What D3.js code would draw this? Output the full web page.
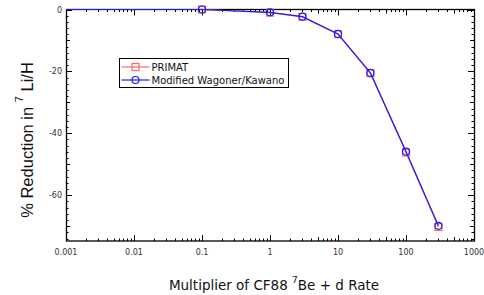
<!DOCTYPE html>
<html>
<head>
<meta charset="utf-8">
<script src="https://cdn.jsdelivr.net/npm/d3@7"></script>
<style>
  body { margin: 0; background: #fff; }
  text { font-family: "DejaVu Sans", sans-serif; }
</style>
</head>
<body>
<svg id="chart" width="484" height="295"></svg>
<script>
// multiplier of the CF88 rate, and % change in 7Li/H
var multipliers = [0.001, 0.01, 0.1, 1, 3, 10, 30, 100, 300]
var primatValues = [0, 0, 0, -1.0, -2.4, -8.0, -20.6, -46.2, -70.3]
var wagonerValues = [0, 0, 0, -0.9, -2.3, -7.9, -20.5, -45.9, -69.9]
var markedMultipliers = [0.1, 1, 3, 10, 30, 100, 300]
var xTickLabels = ["0.001", "0.01", "0.1", "1", "10", "100", "1000"]
var yTickValues = [0, -20, -40, -60]
var seriesNames = ["PRIMAT", "Modified Wagoner/Kawano"]

var svg = d3.select("#chart")
var plotLeft = 66, plotRight = 474, plotTop = 9.5, plotBottom = 241

var xScale = d3.scaleLog().domain([0.001, 1000]).range([plotLeft, plotRight])
var yScale = d3.scaleLinear().domain([-74.8, 0]).range([plotBottom, plotTop])

// minor ticks
var minorX = []
for (var e = -3; e < 3; e++) {
    for (var m = 2; m <= 9; m++) minorX.push(m * Math.pow(10, e))
}
var minorY = d3.range(0, -75, -2)

function tickLen(v) {
    if (v % 20 === 0) return 6
    if (v % 10 === 0) return 4
    return 2.5
}

var g = svg.append("g").attr("stroke", "#000").attr("stroke-width", 1)

// x ticks (bottom up, top down)
var xMajor = xTickLabels.map(Number)
xMajor.concat(minorX).forEach(function (v) {
    var x = Math.round(xScale(v)) + 0.5
    var len = xMajor.indexOf(v) >= 0 ? 6 : (String(v).charAt(0) === "5" ? 4 : 2.5)
    g.append("line").attr("x1", x).attr("x2", x).attr("y1", plotBottom).attr("y2", plotBottom - len)
    g.append("line").attr("x1", x).attr("x2", x).attr("y1", plotTop).attr("y2", plotTop + len)
})

// y ticks (left and right)
minorY.forEach(function (v) {
    var y = Math.round(yScale(v)) + 0.5
    var len = tickLen(v)
    g.append("line").attr("x1", plotLeft).attr("x2", plotLeft + len).attr("y1", y).attr("y2", y)
    g.append("line").attr("x1", plotRight).attr("x2", plotRight - len).attr("y1", y).attr("y2", y)
})

g.append("rect")
    .attr("x", plotLeft + 0.5).attr("y", plotTop)
    .attr("width", plotRight - plotLeft).attr("height", plotBottom - plotTop)
    .attr("fill", "none").attr("stroke-width", 1.3)

// tick labels
svg.selectAll(".xlab")
    .data(xTickLabels)
    .enter().append("text")
    .attr("x", function (d) { return xScale(+d) })
    .attr("y", 255)
    .attr("text-anchor", "middle")
    .attr("font-size", 8)
    .attr("fill", "#333")
    .text(function (d) { return d })

svg.selectAll(".ylab")
    .data(yTickValues)
    .enter().append("text")
    .attr("x", plotLeft - 4)
    .attr("y", function (d) { return yScale(d) + 3 })
    .attr("text-anchor", "end")
    .attr("font-size", 8)
    .attr("fill", "#333")
    .text(function (d) { return d })

// series
var line = d3.line()
    .x(function (d) { return xScale(d[0]) })
    .y(function (d) { return yScale(d[1]) })

var primat = multipliers.map(function (x, i) { return [x, primatValues[i]] })
var wagoner = multipliers.map(function (x, i) { return [x, wagonerValues[i]] })

svg.append("path").datum(primat).attr("d", line)
    .attr("fill", "none").attr("stroke", "#ff6a6a").attr("stroke-width", 1.2)

svg.selectAll(".sq")
    .data(primat.filter(function (d) { return markedMultipliers.indexOf(d[0]) >= 0 }))
    .enter().append("rect")
    .attr("x", function (d) { return xScale(d[0]) - 3.5 })
    .attr("y", function (d) { return yScale(d[1]) - 3.5 })
    .attr("width", 7).attr("height", 7)
    .attr("fill", "none").attr("stroke", "#ff6a6a").attr("stroke-width", 1.2)

svg.append("path").datum(wagoner).attr("d", line)
    .attr("fill", "none").attr("stroke", "#1a1aff").attr("stroke-width", 1.2)

svg.selectAll(".ci")
    .data(wagoner.filter(function (d) { return markedMultipliers.indexOf(d[0]) >= 0 }))
    .enter().append("circle")
    .attr("cx", function (d) { return xScale(d[0]) })
    .attr("cy", function (d) { return yScale(d[1]) })
    .attr("r", 3.5)
    .attr("fill", "none").attr("stroke", "#1a1aff").attr("stroke-width", 1.2)

// legend
var legend = svg.append("g").attr("transform", "translate(119.5,58.5)")
legend.append("rect").attr("width", 169).attr("height", 29)
    .attr("fill", "#fff").attr("stroke", "#000").attr("stroke-width", 1)
legend.append("line").attr("x1", 2).attr("x2", 30).attr("y1", 8.5).attr("y2", 8.5)
    .attr("stroke", "#ff6a6a").attr("stroke-width", 1.2)
legend.append("rect").attr("x", 12.5).attr("y", 5).attr("width", 7).attr("height", 7)
    .attr("fill", "none").attr("stroke", "#ff6a6a").attr("stroke-width", 1.2)
legend.append("line").attr("x1", 2).attr("x2", 30).attr("y1", 21.5).attr("y2", 21.5)
    .attr("stroke", "#1a1aff").attr("stroke-width", 1.2)
legend.append("circle").attr("cx", 16).attr("cy", 21.5).attr("r", 3.5)
    .attr("fill", "none").attr("stroke", "#1a1aff").attr("stroke-width", 1.2)
seriesNames.forEach(function (name, i) {
    legend.append("text").attr("x", 32).attr("y", 12 + i * 13)
        .attr("font-size", 10).attr("fill", "#111").text(name)
})

// axis titles
var xt = svg.append("text").attr("x", 274).attr("y", 290)
    .attr("text-anchor", "middle").attr("font-size", 13.5).attr("fill", "#111")
xt.append("tspan").text("Multiplier of CF88 ")
xt.append("tspan").attr("font-size", 9).attr("dy", -7).text("7")
xt.append("tspan").attr("dy", 7).text("Be + d Rate")

var yt = svg.append("text")
    .attr("transform", "translate(33,140) rotate(-90)")
    .attr("text-anchor", "middle").attr("font-size", 16.5).attr("fill", "#111")
    .style("font-family", "'Liberation Sans', Arial, sans-serif")
yt.append("tspan").text("% Reduction in ")
yt.append("tspan").attr("font-size", 11).attr("dy", -10).text("7")
yt.append("tspan").attr("dy", 10).text(" Li/H")
</script>
</body>
</html>
